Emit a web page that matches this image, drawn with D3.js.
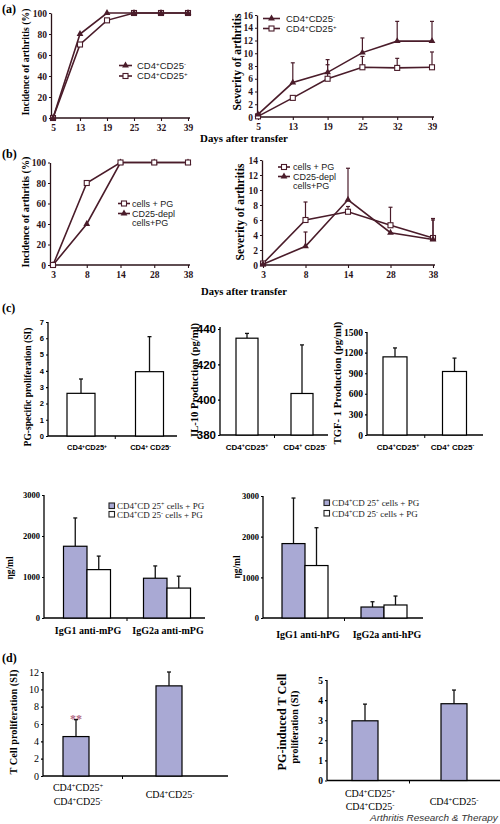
<!DOCTYPE html>
<html><head><meta charset="utf-8">
<script src="https://cdn.jsdelivr.net/npm/d3@7"></script>
<style>body{margin:0;background:#fff}svg{display:block}</style>
</head><body>
<svg id="c" width="500" height="824"></svg>
<script>
// ---------- DATA ----------
// (a)
const daysA = ["5","13","19","25","32","39"];
const incA_neg = [0, 80, 100, 100, 100, 100];
const incA_pos = [0, 70, 93, 100, 100, 100];
const sevA_neg = [0.4, 5.4, 7.0, 10.1, 11.9, 11.9];
const sevA_negErr = [null, 8.5, 9.0, 12.4, 15.0, 15.0];
const sevA_pos = [0.1, 3.0, 6.0, 7.8, 7.7, 7.8];
const sevA_posErr = [null, null, 8.2, 9.5, 9.2, 10.2];
const incTicks = [0, 20, 40, 60, 80, 100];
const sevATicks = [0, 2, 4, 6, 8, 10, 12, 14, 16];
// (b)
const daysB = ["3","8","14","28","38"];
const incB_pg = [0, 80, 100, 100, 100];
const incB_depl = [0, 40, 100, 100, 100];
const sevB_pg = [0.2, 6.0, 7.1, 5.3, 3.6];
const sevB_pgErr = [null, 8.4, 7.8, 7.7, 6.2];
const sevB_depl = [0.1, 2.5, 8.7, 4.3, 3.4];
const sevB_deplErr = [null, 4.4, 12.9, null, 6.0];
const sevBTicks = [0, 2, 4, 6, 8, 10, 12, 14];
// (c)
const cGroups = ["CD4^+CD25^+", "CD4^+ CD25^-"];
const prolif = [2.62, 3.95];
const prolifErr = [3.5, 6.1];
const prolifTicks = [0, 1, 2, 3, 4, 5, 6, 7];
const il10 = [434.8, 403.5];
const il10Err = [437.5, 431];
const il10Ticks = [380, 400, 420, 440];
const tgf = [1138, 925];
const tgfErr = [1268, 1120];
const tgfTicks = [0, 300, 600, 900, 1200, 1500];
// IgG
const igGroupsM = ["IgG1 anti-mPG", "IgG2a anti-mPG"];
const igM_pos = [1750, 970];
const igM_posErr = [2440, 1270];
const igM_neg = [1180, 730];
const igM_negErr = [1510, 1020];
const igGroupsH = ["IgG1 anti-hPG", "IgG2a anti-hPG"];
const igH_pos = [1830, 270];
const igH_posErr = [2950, 400];
const igH_neg = [1290, 320];
const igH_negErr = [2220, 540];
const igTicks = [0, 1000, 2000, 3000];
const igLegend = ["CD4^+CD 25^+ cells + PG", "CD4^+CD 25^- cells + PG"];
// (d)
const dGroups = [["CD4^+CD25^+", "CD4^+CD25^-"], ["CD4^+CD25^-"]];
const d1Vals = [4.55, 10.4];
const d1Err = [6.5, 12.0];
const d1Ticks = [0, 2, 4, 6, 8, 10, 12];
const d2Vals = [2.97, 3.82];
const d2Err = [3.8, 4.5];
const d2Ticks = [0, 1, 2, 3, 4, 5];

// ---------- STYLE ----------
const svg = d3.select('#c');
const SERIF = '"Liberation Serif","Times New Roman",serif';
const SANS = '"Liberation Sans",Arial,sans-serif';
const LINE = '#4a1c2a';
const AXC = '#2a1218';
const PURPLE = '#a9a9d4';

function rich(t, str) {
  str.split(/(\^.)/).forEach(p => {
    if (!p) return;
    if (p[0] === '^') t.append('tspan').attr('baseline-shift', 'super').attr('font-size', '65%').text(p[1]);
    else t.append('tspan').text(p);
  });
  return t;
}
function txt(x, y, str, o) {
  const t = svg.append('text').attr('x', x).attr('y', y)
    .style('font-family', o.ff || SERIF).attr('font-size', o.fs || 10)
    .attr('font-weight', o.fw || 'normal').attr('fill', o.fill || '#000')
    .attr('text-anchor', o.anchor || 'start');
  if (o.style) t.attr('font-style', o.style);
  rich(t, str);
  return t;
}
function fit(t, len) {
  const w = t.node().getComputedTextLength();
  const fs = parseFloat(t.attr('font-size'));
  t.attr('font-size', fs * len / w);
}
function vlabel(cx, cy, str, o, len) {
  const t = svg.append('text').attr('transform', `translate(${cx},${cy}) rotate(-90)`)
    .attr('text-anchor', 'middle').attr('dy', '0.35em')
    .style('font-family', o.ff || SERIF).attr('font-size', o.fs || 11)
    .attr('font-weight', o.fw || 'bold').attr('fill', o.fill || '#000');
  rich(t, str);
  if (len) fit(t, len);
  return t;
}
function styleAxis(g, ff, fs, fw, col) {
  g.attr('font-family', null).attr('font-size', null);
  g.selectAll('.domain').attr('stroke', col).attr('stroke-width', 1.3);
  g.selectAll('.tick line').attr('stroke', col).attr('stroke-width', 1.1);
  g.selectAll('.tick text').style('font-family', ff).attr('font-size', fs).attr('font-weight', fw).attr('fill', col);
}

// ---------- LINE CHART ----------
function lineChart(o) {
  const x = d3.scalePoint().domain(o.cats).range(o.xr);
  const y = d3.scaleLinear().domain(o.yd).range(o.yr);
  const gy = svg.append('g').attr('transform', `translate(${o.ax},0)`)
    .call(d3.axisLeft(y).tickValues(o.yticks).tickSize(2).tickPadding(2).tickSizeOuter(0));
  styleAxis(gy, SERIF, 9.5, 'bold', AXC);
  const gx = svg.append('g').attr('transform', `translate(0,${o.yr[0]})`)
    .call(d3.axisBottom(x).tickSize(3).tickPadding(3).tickSizeOuter(0));
  gx.select('.domain').remove();
  gx.append('line').attr('x1', o.ax).attr('x2', o.xr[1] + 2).attr('stroke', AXC).attr('stroke-width', 1.3);
  styleAxis(gx, SERIF, 9.5, 'bold', AXC);

  o.series.forEach(s => {
    const pts = o.cats.map((c, i) => ({ c, v: s.vals[i], e: s.errs ? s.errs[i] : null }));
    const eb = svg.append('g').attr('stroke', LINE).attr('stroke-width', 1.2);
    pts.filter(p => p.e != null).forEach(p => {
      eb.append('line').attr('x1', x(p.c)).attr('x2', x(p.c)).attr('y1', y(p.v)).attr('y2', y(p.e));
      eb.append('line').attr('x1', x(p.c) - 2).attr('x2', x(p.c) + 2).attr('y1', y(p.e)).attr('y2', y(p.e));
    });
    svg.append('path').datum(pts).attr('fill', 'none').attr('stroke', LINE).attr('stroke-width', 1.6)
      .attr('d', d3.line().x(p => x(p.c)).y(p => y(p.v)));
    const mk = svg.append('g');
    pts.forEach(p => {
      if (s.marker === 'tri') {
        mk.append('path').attr('d', d3.symbol(d3.symbolTriangle, 20)())
          .attr('transform', `translate(${x(p.c)},${y(p.v)})`).attr('fill', LINE);
      } else {
        mk.append('rect').attr('x', x(p.c) - 2.5).attr('y', y(p.v) - 2.5).attr('width', 5).attr('height', 5)
          .attr('fill', '#fff').attr('stroke', LINE).attr('stroke-width', 1.1);
      }
    });
  });
  // legend
  o.legend.forEach((l, i) => {
    const ly = o.leg.y[i];
    const g = svg.append('g');
    g.append('line').attr('x1', o.leg.x0).attr('x2', o.leg.x1).attr('y1', ly).attr('y2', ly)
      .attr('stroke', LINE).attr('stroke-width', 1.6);
    const cx = (o.leg.x0 + o.leg.x1) / 2;
    if (l.marker === 'tri') g.append('path').attr('d', d3.symbol(d3.symbolTriangle, 20)()).attr('transform', `translate(${cx},${ly})`).attr('fill', LINE);
    else g.append('rect').attr('x', cx - 2.5).attr('y', ly - 2.5).attr('width', 5).attr('height', 5).attr('fill', '#fff').attr('stroke', LINE).attr('stroke-width', 1.1);
    l.lines.forEach((ln, j) => {
      txt(o.leg.tx, ly + 3.3 + j * o.leg.sub, ln, { ff: SANS, fs: o.leg.fs || 9.5, fill: '#222' });
    });
  });
  return { x, y };
}

// ---------- BAR CHART ----------
function barChart(o) {
  const x = d3.scalePoint().domain(o.groups.map((g, i) => i)).range(o.cr);
  const y = d3.scaleLinear().domain(o.yd).range(o.yr);
  const gy = svg.append('g').attr('transform', `translate(${o.ax},0)`)
    .call(d3.axisLeft(y).tickValues(o.yticks).tickFormat(d3.format('d')).tickSize(o.ts || 2).tickPadding(o.tp || 2).tickSizeOuter(0));
  gy.select('.domain').attr('d', `M0,${o.yr[0]}V${o.ytop != null ? o.ytop : o.yr[1]}`);
  styleAxis(gy, o.tf.ff, o.tf.fs, o.tf.fw, '#000');
  const base = y(o.yd[0]);
  svg.append('line').attr('x1', o.ax).attr('x2', o.xe).attr('y1', base).attr('y2', base).attr('stroke', '#000').attr('stroke-width', 1.3);
  const mid = (x(0) + x(1)) / 2 + (o.midShift || 0);
  svg.append('line').attr('x1', mid).attr('x2', mid).attr('y1', base).attr('y2', base + 3).attr('stroke', '#000').attr('stroke-width', 1);
  const n = o.series.length;
  o.series.forEach((s, si) => {
    o.groups.forEach((g, gi) => {
      const bx = x(gi) + (si - n / 2) * o.bw;
      const v = s.vals[gi], e = s.errs[gi];
      const ex = bx + o.bw / 2;
      svg.append('line').attr('x1', ex).attr('x2', ex).attr('y1', y(v)).attr('y2', y(e)).attr('stroke', '#111').attr('stroke-width', 1.3);
      svg.append('line').attr('x1', ex - 2).attr('x2', ex + 2).attr('y1', y(e)).attr('y2', y(e)).attr('stroke', '#111').attr('stroke-width', 1.3);
      svg.append('rect').attr('x', bx).attr('y', y(v)).attr('width', o.bw).attr('height', base - y(v))
        .attr('fill', s.fill).attr('stroke', '#000').attr('stroke-width', 1.2);
    });
  });
  o.groups.forEach((g, gi) => {
    const lines = Array.isArray(g) ? g : [g];
    lines.forEach((ln, j) => {
      const yy = o.ly[gi] + j * (o.lgap || 0);
      txt(x(gi) + (o.lshift ? o.lshift[gi] : 0), yy, ln, { ff: o.lf.ff, fs: o.lf.fs, fw: o.lf.fw, anchor: 'middle' });
    });
  });
  return { x, y };
}

// ---------- PANEL (a) ----------
txt(2, 13, "(a)", { fs: 12, fw: 'bold' });
lineChart({
  cats: daysA, xr: [53, 188], ax: 51, yd: [0, 100], yr: [118, 13], yticks: incTicks,
  series: [
    { vals: incA_pos, marker: 'sq' },
    { vals: incA_neg, marker: 'tri' }
  ],
  legend: [{ marker: 'tri', lines: ["CD4^+CD25^-"] }, { marker: 'sq', lines: ["CD4^+CD25^+"] }],
  leg: { x0: 119, x1: 132, tx: 137, y: [65.5, 76], sub: 0 }
});
vlabel(26, 62, "Incidence of arthritis (%)", { fs: 12 }, 107);

lineChart({
  cats: daysA, xr: [258, 432], ax: 257, yd: [0, 16], yr: [117, 15], yticks: sevATicks,
  series: [
    { vals: sevA_pos, errs: sevA_posErr, marker: 'sq' },
    { vals: sevA_neg, errs: sevA_negErr, marker: 'tri' }
  ],
  legend: [{ marker: 'tri', lines: ["CD4^+CD25^-"] }, { marker: 'sq', lines: ["CD4^+CD25^+"] }],
  leg: { x0: 263, x1: 280, tx: 286, y: [18.5, 28.5], sub: 0 }
});
vlabel(237, 62, "Severity of arthritis", { fs: 12 }, 97);
fit(txt(244, 142, "Days after transfer", { fs: 13, fw: 'bold', anchor: 'middle' }), 88);

// ---------- PANEL (b) ----------
txt(2, 158, "(b)", { fs: 12, fw: 'bold' });
lineChart({
  cats: daysB, xr: [53, 188], ax: 50, yd: [0, 100], yr: [265, 162.5], yticks: incTicks,
  series: [
    { vals: incB_depl, marker: 'tri' },
    { vals: incB_pg, marker: 'sq' }
  ],
  legend: [{ marker: 'sq', lines: ["cells + PG"] }, { marker: 'tri', lines: ["CD25-depl", "cells+PG"] }],
  leg: { x0: 118, x1: 130, tx: 132, y: [203.5, 213.5], sub: 9.3, fs: 9 }
});
vlabel(25, 212, "Incidence of arthritis (%)", { fs: 12 }, 111);

lineChart({
  cats: daysB, xr: [263, 433], ax: 262, yd: [0, 14], yr: [265, 160], yticks: sevBTicks,
  series: [
    { vals: sevB_pg, errs: sevB_pgErr, marker: 'sq' },
    { vals: sevB_depl, errs: sevB_deplErr, marker: 'tri' }
  ],
  legend: [{ marker: 'sq', lines: ["cells + PG"] }, { marker: 'tri', lines: ["CD25-depl", "cells+PG"] }],
  leg: { x0: 278, x1: 290, tx: 293, y: [167, 176.5], sub: 9.2, fs: 9 }
});
vlabel(240, 212, "Severity of arthritis", { fs: 12 }, 97);
fit(txt(244, 295, "Days after transfer", { fs: 13, fw: 'bold', anchor: 'middle' }), 86);

// ---------- PANEL (c) ----------
txt(2, 312, "(c)", { fs: 12, fw: 'bold' });
barChart({
  groups: cGroups, cr: [81, 149.5], bw: 28, ax: 48, xe: 177, yd: [0, 7], yr: [436, 322], yticks: prolifTicks,
  tf: { ff: SANS, fs: 7.5, fw: 'bold' }, lf: { ff: SANS, fs: 7.5, fw: 'bold' }, ly: [450, 450],
  series: [{ vals: prolif, errs: prolifErr, fill: '#fff' }], lshift: [6, 1]
});
vlabel(28, 387, "PG-specific proliferation (SI)", { fs: 12 }, 119);

barChart({
  groups: cGroups, cr: [247, 302], bw: 22, ax: 220, xe: 328, yd: [380, 440], yr: [435, 329], ytop: 327, yticks: il10Ticks,
  tf: { ff: SANS, fs: 11.5, fw: 'bold' }, lf: { ff: SANS, fs: 8, fw: 'bold' }, ly: [450, 450],
  series: [{ vals: il10, errs: il10Err, fill: '#fff' }], lshift: [0, 3]
});
vlabel(194, 380, "IL-10 Production (pg/ml)", { fs: 12 }, 114);

barChart({
  groups: cGroups, cr: [395, 454.5], bw: 24, ax: 367, xe: 483, yd: [0, 1500], yr: [435, 332], yticks: tgfTicks,
  tf: { ff: SERIF, fs: 9.5, fw: 'bold' }, lf: { ff: SANS, fs: 8, fw: 'bold' }, ly: [450, 450],
  series: [{ vals: tgf, errs: tgfErr, fill: '#fff' }], lshift: [3, -2]
});
vlabel(337, 383, "TGF- 1  Production (pg/ml)", { fs: 12 }, 123);

// ---------- IgG ----------
function igLegendDraw(x0, ys) {
  igLegend.forEach((l, i) => {
    svg.append('rect').attr('x', x0).attr('y', ys[i] - 3).attr('width', 5.5).attr('height', 5.5)
      .attr('fill', i === 0 ? PURPLE : '#fff').attr('stroke', '#222').attr('stroke-width', 1.1);
    txt(x0 + 8, ys[i] + 3, l, { ff: SERIF, fs: 9, fill: '#222' });
  });
}
barChart({
  groups: igGroupsM, cr: [87, 167], bw: 23.5, ax: 44, xe: 205, yd: [0, 3000], yr: [618, 495], yticks: igTicks,
  tf: { ff: SERIF, fs: 8.5, fw: 'bold' }, lf: { ff: SERIF, fs: 10, fw: 'bold' }, ly: [634, 634],
  series: [{ vals: igM_pos, errs: igM_posErr, fill: PURPLE }, { vals: igM_neg, errs: igM_negErr, fill: '#fff' }],
  lshift: [1, 1]
});
vlabel(10, 568, "ηg/ml", { fs: 9 }, 23);
igLegendDraw(109, [506, 514.5]);

barChart({
  groups: igGroupsH, cr: [305, 384], bw: 23, ax: 263, xe: 423, yd: [0, 3000], yr: [618, 496], yticks: igTicks,
  tf: { ff: SERIF, fs: 8.5, fw: 'bold' }, lf: { ff: SERIF, fs: 10, fw: 'bold' }, ly: [638, 638],
  series: [{ vals: igH_pos, errs: igH_posErr, fill: PURPLE }, { vals: igH_neg, errs: igH_negErr, fill: '#fff' }],
  lshift: [3, 3]
});
vlabel(237, 567, "ηg/ml", { fs: 9 }, 23);
igLegendDraw(324, [503, 513.5]);

// ---------- PANEL (d) ----------
txt(2, 662, "(d)", { fs: 12, fw: 'bold' });
barChart({
  groups: dGroups, cr: [76, 169], bw: 26, ax: 43, xe: 228, yd: [0, 12], yr: [776, 672], yticks: d1Ticks,
  tf: { ff: SERIF, fs: 10, fw: 'normal' }, lf: { ff: SERIF, fs: 10, fw: 'normal' }, ly: [791, 798], lgap: 14,
  series: [{ vals: d1Vals, errs: d1Err, fill: PURPLE }], lshift: [2, 1]
});
txt(76, 723, "**", { ff: SERIF, fs: 12, fw: 'bold', fill: '#b06a85', anchor: 'middle' });
vlabel(13, 722, "T Cell proliferation (SI)", { fs: 11 }, 105);

barChart({
  groups: dGroups, cr: [365, 454], bw: 26, ax: 327, xe: 500, yd: [0, 5], yr: [780.5, 680], yticks: d2Ticks,
  tf: { ff: SERIF, fs: 9.5, fw: 'bold' }, lf: { ff: SERIF, fs: 10, fw: 'normal' }, ly: [797, 805], lgap: 13,
  series: [{ vals: d2Vals, errs: d2Err, fill: PURPLE }], lshift: [5, 0]
});
vlabel(282, 722, "PG-induced T Cell", { fs: 10 }, 97);
vlabel(294, 727, "proliferation (SI)", { fs: 10 }, 73);

fit(txt(370, 821, "Arthritis Research & Therapy", { ff: SANS, fs: 10, style: 'italic', fill: '#333' }), 128);
</script>
</body></html>
